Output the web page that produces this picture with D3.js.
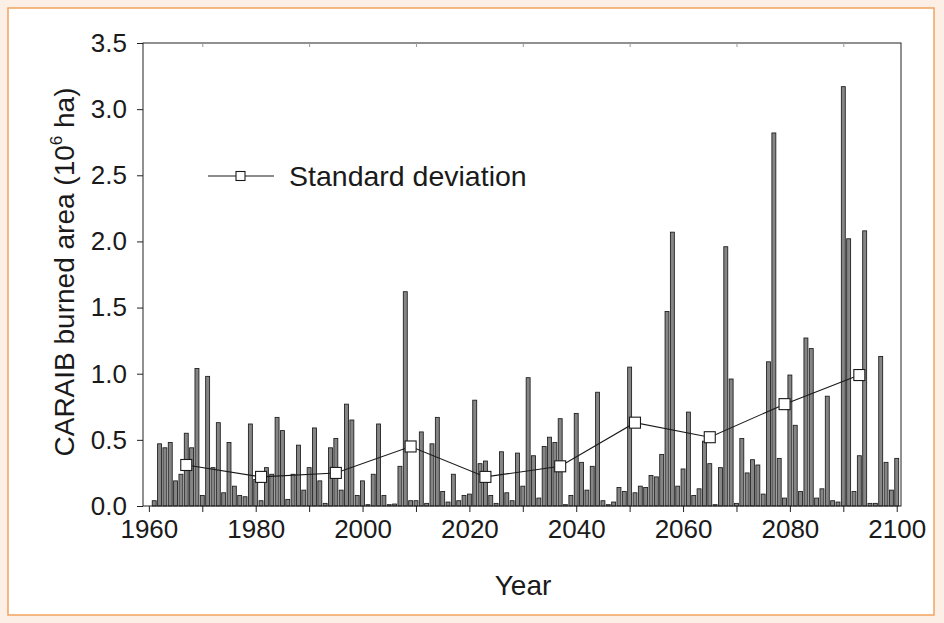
<!DOCTYPE html>
<html><head><meta charset="utf-8">
<script src="https://cdn.jsdelivr.net/npm/d3@7"></script>
<style>
html,body{margin:0;padding:0;background:#fcefe5;}
svg{display:block;font-family:"Liberation Sans",Arial,sans-serif;}
</style></head>
<body>
<svg id="chart" width="944" height="623"></svg>
<script>
const startYear = 1961;
const burnedArea = [
  0.04,0.47,0.44,0.48,0.19,0.24,0.55,0.44,1.04,0.08,
  0.98,0.29,0.63,0.10,0.48,0.15,0.08,0.07,0.62,0.20,
  0.04,0.29,0.24,0.67,0.57,0.05,0.24,0.46,0.12,0.29,
  0.59,0.19,0.02,0.44,0.51,0.12,0.77,0.65,0.08,0.19,
  0.01,0.24,0.62,0.08,0.01,0.015,0.30,1.62,0.04,0.04,
  0.56,0.02,0.47,0.67,0.11,0.03,0.24,0.04,0.08,0.09,
  0.80,0.32,0.34,0.08,0.02,0.41,0.10,0.04,0.40,0.15,
  0.97,0.38,0.06,0.45,0.52,0.48,0.66,0.01,0.08,0.70,
  0.33,0.12,0.30,0.86,0.04,0.01,0.03,0.14,0.11,1.05,
  0.10,0.15,0.14,0.23,0.22,0.39,1.47,2.07,0.15,0.28,
  0.71,0.08,0.13,0.49,0.32,0.01,0.29,1.96,0.96,0.02,
  0.51,0.25,0.35,0.31,0.09,1.09,2.82,0.36,0.06,0.99,
  0.61,0.11,1.27,1.19,0.06,0.13,0.83,0.04,0.03,3.17,
  2.02,0.11,0.38,2.08,0.02,0.02,1.13,0.33,0.12,0.36
];
const sdYears = [1967,1981,1995,2009,2023,2037,2051,2065,2079,2093];
const sdValues = [0.31,0.22,0.25,0.45,0.22,0.30,0.63,0.52,0.77,0.99];
const xTickLabels = [1960,1980,2000,2020,2040,2060,2080,2100];
const xMinorTicks = [1970,1990,2010,2030,2050,2070,2090];
const yTickLabels = [0,0.5,1.0,1.5,2.0,2.5,3.0,3.5];
const legendLabel = "Standard deviation";

const bars = burnedArea.map((v,i)=>({year:startYear+i, value:v}));
const sd = sdYears.map((y,i)=>({year:y, value:sdValues[i]}));

const svg = d3.select("#chart");
svg.append("rect").attr("x",8).attr("y",8).attr("width",926).attr("height",607)
  .attr("fill","#ffffff").attr("stroke","#f2a35e").attr("stroke-width",1.5);

const L=143, R=901, T=43, B=506;
const x = d3.scaleLinear().domain([1958.9, 2100.8]).range([L,R]);
const y = d3.scaleLinear().domain([0,3.5]).range([B,T]);
const step = x(1)-x(0);
const bw = step*0.74;

const g = svg.append("g");
g.selectAll("rect.bar").data(bars).enter().append("rect")
  .attr("class","bar")
  .attr("x",d=>x(d.year)-bw/2).attr("width",bw)
  .attr("y",d=>y(d.value)).attr("height",d=>y(0)-y(d.value))
  .attr("fill","#858585").attr("stroke","#1a1a1a").attr("stroke-width",0.85);

g.append("rect").attr("x",L).attr("y",T).attr("width",R-L).attr("height",B-T)
  .attr("fill","none").attr("stroke","#222").attr("stroke-width",1);

const xAxis = d3.axisBottom(x).tickValues(xTickLabels.concat(xMinorTicks)).tickSize(6)
  .tickFormat(d=> xTickLabels.includes(d) ? d : "");
const gx = g.append("g").attr("transform",`translate(0,${B})`).call(xAxis);
gx.select(".domain").remove();
gx.selectAll("line").attr("stroke","#222");
gx.selectAll("text").attr("font-size",26).attr("fill","#1a1a1a").attr("dy","0.95em").attr("y",7);

const xTop = d3.axisBottom(x).tickValues(xMinorTicks).tickSize(4).tickFormat("");
const gxt = g.append("g").attr("transform",`translate(0,${T})`).call(xTop);
gxt.select(".domain").remove();
gxt.selectAll("line").attr("stroke","#999");

const yAxis = d3.axisLeft(y).tickValues(yTickLabels).tickSize(6).tickFormat(d3.format(".1f"));
const gy = g.append("g").attr("transform",`translate(${L},0)`).call(yAxis);
gy.select(".domain").remove();
gy.selectAll("line").attr("stroke","#222");
gy.selectAll("text").attr("font-size",26).attr("fill","#1a1a1a").attr("x",-16);

const line = d3.line().x(d=>x(d.year)).y(d=>y(d.value));
g.append("path").datum(sd).attr("d",line).attr("fill","none").attr("stroke","#1a1a1a").attr("stroke-width",1.1);
const ms = 11;
g.selectAll("rect.sd").data(sd).enter().append("rect").attr("class","sd")
  .attr("x",d=>x(d.year)-ms/2).attr("y",d=>y(d.value)-ms/2)
  .attr("width",ms).attr("height",ms)
  .attr("fill","#fff").attr("stroke","#1a1a1a").attr("stroke-width",1.1);

const ly = 176;
g.append("line").attr("x1",208).attr("x2",274).attr("y1",ly).attr("y2",ly).attr("stroke","#1a1a1a").attr("stroke-width",1.1);
g.append("rect").attr("x",236).attr("y",ly-4.5).attr("width",9).attr("height",9).attr("fill","#fff").attr("stroke","#1a1a1a").attr("stroke-width",1.1);
g.append("text").attr("x",289).attr("y",ly+10).attr("font-size",28.5).attr("fill","#1a1a1a").text(legendLabel);

g.append("text").attr("x",(L+R)/2+1).attr("y",595).attr("text-anchor","middle").attr("font-size",28).attr("fill","#1a1a1a").text("Year");
const yt = g.append("text").attr("transform","translate(74,272) rotate(-90)").attr("text-anchor","middle")
  .attr("font-size",28).attr("fill","#1a1a1a");
yt.append("tspan").text("CARAIB burned area (10");
yt.append("tspan").attr("font-size",17).attr("dy",-12).text("6");
yt.append("tspan").attr("dy",12).text(" ha)");
</script>
</body></html>
